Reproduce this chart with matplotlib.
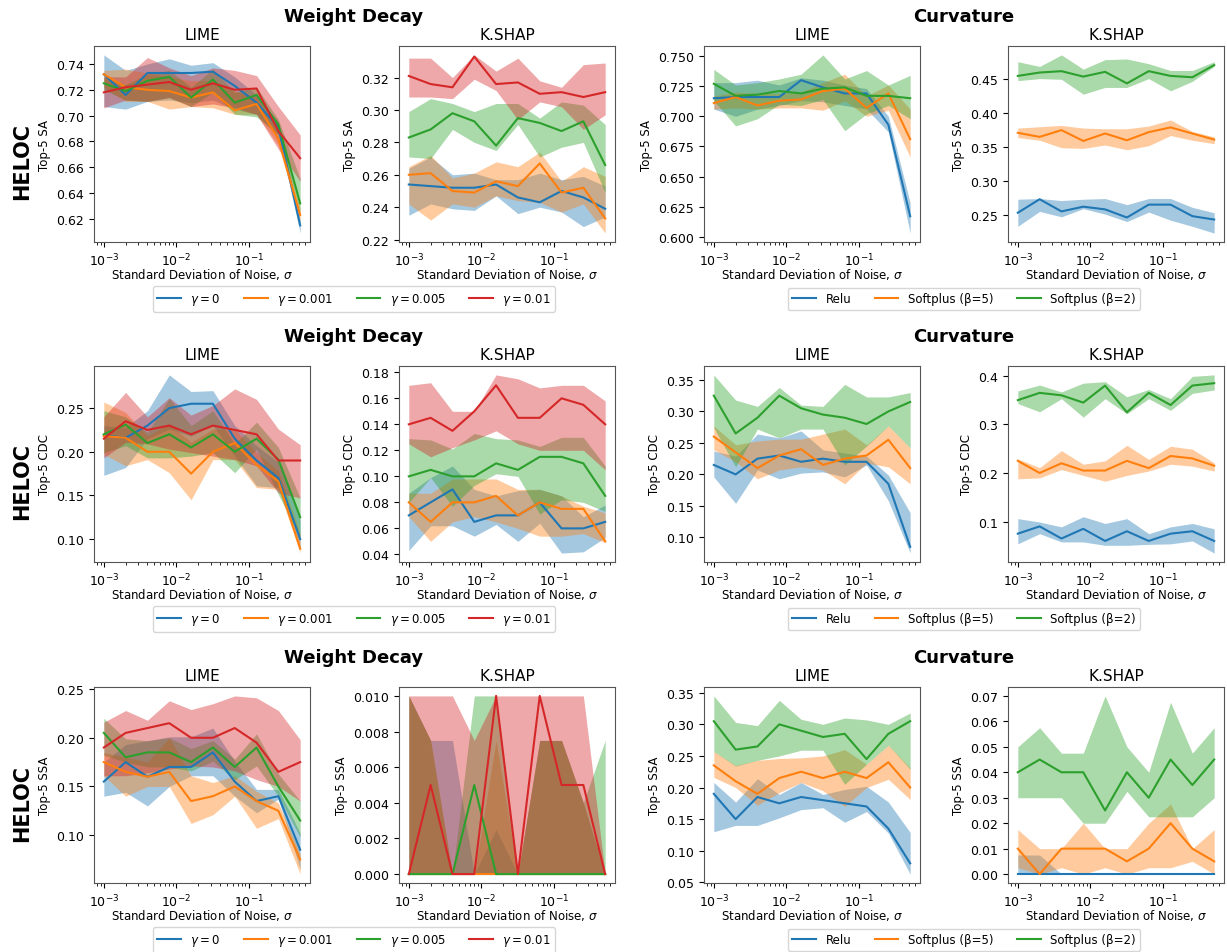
import matplotlib
matplotlib.use("Agg")
import matplotlib.pyplot as plt
from matplotlib.ticker import MultipleLocator

# Noise levels on the x axis
sigma = [0.001, 0.002, 0.004, 0.008, 0.016, 0.032, 0.064, 0.128, 0.256, 0.512]

wd_labels = [r"$\gamma = 0$", r"$\gamma = 0.001$", r"$\gamma = 0.005$", r"$\gamma = 0.01$"]
cv_labels = ["Relu", "Softplus (β=5)", "Softplus (β=2)"]
row_metrics = ["Top-5 SA", "Top-5 CDC", "Top-5 SSA"]

# ---- Top-5 SA, weight decay, LIME ----
sa_wd_lime_mean = [
    [0.732, 0.716, 0.733, 0.733, 0.733, 0.734, 0.723, 0.710, 0.691, 0.615],
    [0.732, 0.722, 0.720, 0.719, 0.714, 0.718, 0.704, 0.709, 0.682, 0.623],
    [0.725, 0.719, 0.727, 0.730, 0.714, 0.728, 0.710, 0.716, 0.693, 0.632],
    [0.718, 0.722, 0.724, 0.726, 0.720, 0.725, 0.720, 0.721, 0.688, 0.667],
]
sa_wd_lime_lo = [
    [0.707, 0.705, 0.711, 0.712, 0.710, 0.712, 0.705, 0.701, 0.685, 0.609],
    [0.722, 0.711, 0.711, 0.705, 0.707, 0.706, 0.701, 0.701, 0.677, 0.618],
    [0.720, 0.712, 0.711, 0.714, 0.707, 0.718, 0.701, 0.699, 0.685, 0.625],
    [0.706, 0.712, 0.711, 0.714, 0.707, 0.709, 0.706, 0.701, 0.674, 0.649],
]
sa_wd_lime_hi = [
    [0.747, 0.735, 0.740, 0.744, 0.739, 0.741, 0.730, 0.716, 0.695, 0.619],
    [0.735, 0.736, 0.733, 0.730, 0.727, 0.727, 0.719, 0.714, 0.688, 0.628],
    [0.730, 0.724, 0.732, 0.735, 0.722, 0.736, 0.718, 0.722, 0.697, 0.651],
    [0.730, 0.730, 0.745, 0.737, 0.731, 0.737, 0.735, 0.731, 0.707, 0.685],
]

# ---- Top-5 SA, weight decay, KernelSHAP ----
sa_wd_kshap_mean = [
    [0.254, 0.253, 0.252, 0.252, 0.254, 0.246, 0.243, 0.250, 0.246, 0.239],
    [0.260, 0.261, 0.250, 0.249, 0.256, 0.253, 0.267, 0.249, 0.252, 0.233],
    [0.283, 0.288, 0.298, 0.293, 0.278, 0.295, 0.292, 0.287, 0.293, 0.266],
    [0.321, 0.316, 0.314, 0.333, 0.316, 0.317, 0.310, 0.311, 0.308, 0.311],
]
sa_wd_kshap_lo = [
    [0.235, 0.242, 0.239, 0.238, 0.247, 0.236, 0.240, 0.237, 0.228, 0.234],
    [0.242, 0.232, 0.242, 0.240, 0.247, 0.244, 0.243, 0.237, 0.242, 0.224],
    [0.271, 0.270, 0.288, 0.280, 0.275, 0.291, 0.271, 0.277, 0.280, 0.249],
    [0.308, 0.308, 0.307, 0.319, 0.312, 0.294, 0.305, 0.302, 0.288, 0.297],
]
sa_wd_kshap_hi = [
    [0.264, 0.271, 0.260, 0.261, 0.257, 0.257, 0.261, 0.257, 0.259, 0.253],
    [0.265, 0.272, 0.258, 0.261, 0.268, 0.265, 0.274, 0.256, 0.265, 0.259],
    [0.299, 0.307, 0.304, 0.299, 0.304, 0.304, 0.295, 0.305, 0.303, 0.291],
    [0.332, 0.332, 0.320, 0.334, 0.324, 0.332, 0.318, 0.314, 0.328, 0.329],
]

# ---- Top-5 SA, curvature, LIME ----
sa_cv_lime_mean = [
    [0.715, 0.716, 0.716, 0.716, 0.730, 0.724, 0.719, 0.719, 0.693, 0.617],
    [0.711, 0.716, 0.709, 0.713, 0.714, 0.721, 0.723, 0.707, 0.719, 0.681],
    [0.727, 0.717, 0.718, 0.721, 0.719, 0.723, 0.724, 0.717, 0.717, 0.715],
]
sa_cv_lime_lo = [
    [0.706, 0.700, 0.706, 0.709, 0.713, 0.712, 0.709, 0.706, 0.687, 0.603],
    [0.706, 0.707, 0.706, 0.707, 0.707, 0.705, 0.713, 0.700, 0.705, 0.666],
    [0.713, 0.692, 0.698, 0.710, 0.709, 0.714, 0.688, 0.702, 0.709, 0.698],
]
sa_cv_lime_hi = [
    [0.728, 0.728, 0.730, 0.726, 0.732, 0.730, 0.726, 0.723, 0.700, 0.628],
    [0.717, 0.720, 0.719, 0.719, 0.720, 0.728, 0.735, 0.717, 0.726, 0.706],
    [0.739, 0.726, 0.728, 0.731, 0.735, 0.751, 0.731, 0.738, 0.726, 0.734],
]

# ---- Top-5 SA, curvature, KernelSHAP ----
sa_cv_kshap_mean = [
    [0.253, 0.273, 0.255, 0.262, 0.258, 0.246, 0.265, 0.265, 0.248, 0.243],
    [0.371, 0.365, 0.375, 0.359, 0.370, 0.360, 0.372, 0.379, 0.370, 0.361],
    [0.455, 0.460, 0.462, 0.454, 0.461, 0.444, 0.462, 0.455, 0.453, 0.471],
]
sa_cv_kshap_lo = [
    [0.233, 0.255, 0.247, 0.259, 0.251, 0.240, 0.254, 0.242, 0.233, 0.223],
    [0.364, 0.360, 0.349, 0.348, 0.353, 0.346, 0.352, 0.367, 0.360, 0.355],
    [0.448, 0.451, 0.450, 0.428, 0.438, 0.438, 0.451, 0.433, 0.447, 0.469],
]
sa_cv_kshap_hi = [
    [0.273, 0.274, 0.271, 0.273, 0.274, 0.265, 0.274, 0.274, 0.261, 0.253],
    [0.378, 0.380, 0.382, 0.378, 0.377, 0.377, 0.381, 0.390, 0.373, 0.365],
    [0.476, 0.469, 0.486, 0.465, 0.479, 0.480, 0.473, 0.463, 0.463, 0.476],
]

# ---- Top-5 CDC, weight decay, LIME ----
cdc_wd_lime_mean = [
    [0.219, 0.216, 0.230, 0.250, 0.255, 0.255, 0.215, 0.190, 0.170, 0.100],
    [0.218, 0.216, 0.200, 0.200, 0.175, 0.200, 0.210, 0.185, 0.166, 0.089],
    [0.220, 0.231, 0.210, 0.220, 0.205, 0.220, 0.200, 0.215, 0.191, 0.125],
    [0.215, 0.235, 0.225, 0.230, 0.220, 0.230, 0.225, 0.220, 0.190, 0.190],
]
cdc_wd_lime_lo = [
    [0.173, 0.182, 0.215, 0.226, 0.218, 0.230, 0.195, 0.161, 0.159, 0.089],
    [0.197, 0.184, 0.191, 0.176, 0.145, 0.191, 0.191, 0.159, 0.157, 0.084],
    [0.199, 0.207, 0.193, 0.193, 0.195, 0.199, 0.176, 0.203, 0.151, 0.103],
    [0.193, 0.211, 0.209, 0.203, 0.199, 0.195, 0.191, 0.184, 0.153, 0.147],
]
cdc_wd_lime_hi = [
    [0.230, 0.228, 0.247, 0.288, 0.269, 0.270, 0.230, 0.207, 0.188, 0.122],
    [0.257, 0.245, 0.218, 0.232, 0.211, 0.226, 0.226, 0.199, 0.178, 0.107],
    [0.247, 0.240, 0.222, 0.261, 0.230, 0.247, 0.209, 0.234, 0.205, 0.147],
    [0.240, 0.268, 0.240, 0.262, 0.242, 0.253, 0.272, 0.260, 0.226, 0.208],
]

# ---- Top-5 CDC, weight decay, KernelSHAP ----
cdc_wd_kshap_mean = [
    [0.070, 0.080, 0.090, 0.065, 0.070, 0.070, 0.080, 0.060, 0.060, 0.065],
    [0.080, 0.065, 0.080, 0.080, 0.085, 0.070, 0.080, 0.075, 0.075, 0.050],
    [0.100, 0.105, 0.100, 0.100, 0.110, 0.105, 0.115, 0.115, 0.110, 0.085],
    [0.140, 0.145, 0.135, 0.150, 0.170, 0.145, 0.145, 0.160, 0.155, 0.140],
]
cdc_wd_kshap_lo = [
    [0.043, 0.062, 0.062, 0.054, 0.063, 0.050, 0.064, 0.041, 0.042, 0.053],
    [0.069, 0.050, 0.065, 0.069, 0.065, 0.060, 0.054, 0.054, 0.056, 0.049],
    [0.080, 0.099, 0.077, 0.093, 0.102, 0.100, 0.071, 0.082, 0.080, 0.073],
    [0.125, 0.115, 0.122, 0.128, 0.135, 0.125, 0.120, 0.120, 0.120, 0.105],
]
cdc_wd_kshap_hi = [
    [0.087, 0.099, 0.108, 0.090, 0.085, 0.089, 0.090, 0.085, 0.069, 0.078],
    [0.087, 0.087, 0.098, 0.098, 0.098, 0.090, 0.090, 0.085, 0.077, 0.072],
    [0.129, 0.128, 0.121, 0.133, 0.129, 0.128, 0.123, 0.130, 0.130, 0.108],
    [0.170, 0.172, 0.150, 0.150, 0.178, 0.175, 0.168, 0.170, 0.170, 0.158],
]

# ---- Top-5 CDC, curvature, LIME ----
cdc_cv_lime_mean = [
    [0.215, 0.200, 0.225, 0.230, 0.220, 0.225, 0.220, 0.220, 0.185, 0.085],
    [0.260, 0.235, 0.210, 0.230, 0.240, 0.215, 0.225, 0.230, 0.255, 0.210],
    [0.325, 0.265, 0.290, 0.325, 0.305, 0.295, 0.290, 0.280, 0.300, 0.315],
]
cdc_cv_lime_lo = [
    [0.196, 0.154, 0.207, 0.193, 0.202, 0.204, 0.196, 0.215, 0.158, 0.075],
    [0.239, 0.220, 0.193, 0.207, 0.212, 0.207, 0.185, 0.218, 0.212, 0.185],
    [0.274, 0.212, 0.272, 0.258, 0.272, 0.272, 0.215, 0.245, 0.277, 0.242],
]
cdc_cv_lime_hi = [
    [0.237, 0.229, 0.264, 0.258, 0.269, 0.239, 0.234, 0.229, 0.199, 0.139],
    [0.277, 0.247, 0.253, 0.256, 0.256, 0.264, 0.272, 0.247, 0.277, 0.242],
    [0.358, 0.318, 0.308, 0.338, 0.310, 0.308, 0.343, 0.323, 0.323, 0.330],
]

# ---- Top-5 CDC, curvature, KernelSHAP ----
cdc_cv_kshap_mean = [
    [0.075, 0.090, 0.065, 0.085, 0.060, 0.080, 0.060, 0.075, 0.080, 0.060],
    [0.225, 0.200, 0.220, 0.205, 0.205, 0.225, 0.210, 0.235, 0.230, 0.215],
    [0.350, 0.365, 0.360, 0.345, 0.380, 0.325, 0.365, 0.340, 0.380, 0.385],
]
cdc_cv_kshap_lo = [
    [0.054, 0.075, 0.058, 0.058, 0.051, 0.051, 0.053, 0.054, 0.060, 0.035],
    [0.188, 0.190, 0.207, 0.195, 0.183, 0.195, 0.204, 0.218, 0.214, 0.204],
    [0.343, 0.326, 0.353, 0.315, 0.353, 0.322, 0.353, 0.329, 0.364, 0.371],
]
cdc_cv_kshap_hi = [
    [0.106, 0.099, 0.089, 0.110, 0.096, 0.106, 0.075, 0.089, 0.096, 0.085],
    [0.229, 0.211, 0.246, 0.218, 0.225, 0.257, 0.228, 0.255, 0.249, 0.221],
    [0.369, 0.381, 0.367, 0.385, 0.388, 0.357, 0.372, 0.353, 0.399, 0.402],
]

# ---- Top-5 SSA, weight decay, LIME ----
ssa_wd_lime_mean = [
    [0.155, 0.175, 0.160, 0.170, 0.170, 0.185, 0.155, 0.135, 0.140, 0.085],
    [0.175, 0.165, 0.160, 0.165, 0.135, 0.140, 0.150, 0.135, 0.125, 0.075],
    [0.205, 0.180, 0.185, 0.185, 0.175, 0.190, 0.170, 0.190, 0.150, 0.115],
    [0.190, 0.205, 0.210, 0.215, 0.200, 0.200, 0.210, 0.195, 0.165, 0.175],
]
ssa_wd_lime_lo = [
    [0.140, 0.144, 0.130, 0.150, 0.161, 0.161, 0.140, 0.123, 0.137, 0.065],
    [0.161, 0.140, 0.150, 0.150, 0.112, 0.121, 0.140, 0.107, 0.117, 0.060],
    [0.182, 0.175, 0.170, 0.170, 0.166, 0.176, 0.157, 0.171, 0.140, 0.098],
    [0.161, 0.161, 0.164, 0.168, 0.171, 0.170, 0.166, 0.157, 0.150, 0.135],
]
ssa_wd_lime_hi = [
    [0.175, 0.193, 0.197, 0.201, 0.201, 0.210, 0.176, 0.147, 0.147, 0.102],
    [0.185, 0.180, 0.175, 0.200, 0.161, 0.154, 0.161, 0.145, 0.133, 0.081],
    [0.220, 0.199, 0.197, 0.200, 0.189, 0.197, 0.178, 0.204, 0.163, 0.135],
    [0.216, 0.228, 0.218, 0.238, 0.229, 0.235, 0.243, 0.241, 0.228, 0.198],
]

# ---- Top-5 SSA, weight decay, KernelSHAP ----
ssa_wd_kshap_mean = [
    [0.0, 0.0, 0.0, 0.0, 0.0, 0.0, 0.0, 0.0, 0.0, 0.0],
    [0.0, 0.0, 0.0, 0.0, 0.0, 0.0, 0.0, 0.0, 0.0, 0.0],
    [0.0, 0.0, 0.0, 0.005, 0.0, 0.0, 0.0, 0.0, 0.0, 0.0],
    [0.0, 0.005, 0.0, 0.0, 0.01, 0.0, 0.01, 0.005, 0.005, 0.0],
]
ssa_wd_kshap_lo = [
    [0.0, 0.0, 0.0, 0.0, 0.0, 0.0, 0.0, 0.0, 0.0, 0.0],
    [0.0, 0.0, 0.0, 0.0, 0.0, 0.0, 0.0, 0.0, 0.0, 0.0],
    [0.0, 0.0, 0.0, 0.0, 0.0, 0.0, 0.0, 0.0, 0.0, 0.0],
    [0.0, 0.0, 0.0, 0.0, 0.0, 0.0, 0.0, 0.0, 0.0, 0.0],
]
ssa_wd_kshap_hi = [
    [0.01, 0.0075, 0.0075, 0.0, 0.0025, 0.0, 0.0075, 0.0075, 0.004, 0.0],
    [0.01, 0.0075, 0.0, 0.0, 0.0075, 0.0, 0.0075, 0.0075, 0.004, 0.0],
    [0.01, 0.0075, 0.0, 0.01, 0.01, 0.0, 0.0075, 0.0075, 0.004, 0.0075],
    [0.01, 0.01, 0.01, 0.0075, 0.01, 0.01, 0.01, 0.01, 0.01, 0.0],
]

# ---- Top-5 SSA, curvature, LIME ----
ssa_cv_lime_mean = [
    [0.190, 0.150, 0.185, 0.175, 0.185, 0.180, 0.175, 0.170, 0.135, 0.080],
    [0.235, 0.210, 0.190, 0.215, 0.225, 0.215, 0.225, 0.215, 0.240, 0.200],
    [0.305, 0.260, 0.265, 0.300, 0.290, 0.280, 0.285, 0.245, 0.285, 0.305],
]
ssa_cv_lime_lo = [
    [0.130, 0.140, 0.140, 0.152, 0.165, 0.168, 0.145, 0.162, 0.128, 0.063],
    [0.216, 0.200, 0.172, 0.192, 0.208, 0.195, 0.170, 0.200, 0.213, 0.181],
    [0.257, 0.234, 0.243, 0.250, 0.259, 0.259, 0.205, 0.237, 0.267, 0.229],
]
ssa_cv_lime_hi = [
    [0.208, 0.177, 0.214, 0.189, 0.208, 0.189, 0.197, 0.202, 0.177, 0.129],
    [0.257, 0.235, 0.243, 0.246, 0.247, 0.250, 0.260, 0.237, 0.267, 0.231],
    [0.345, 0.303, 0.298, 0.338, 0.308, 0.300, 0.310, 0.307, 0.300, 0.318],
]

# ---- Top-5 SSA, curvature, KernelSHAP ----
ssa_cv_kshap_mean = [
    [0.0, 0.0, 0.0, 0.0, 0.0, 0.0, 0.0, 0.0, 0.0, 0.0],
    [0.01, 0.0, 0.01, 0.01, 0.01, 0.005, 0.01, 0.02, 0.01, 0.005],
    [0.04, 0.045, 0.04, 0.04, 0.025, 0.04, 0.03, 0.045, 0.035, 0.045],
]
ssa_cv_kshap_lo = [
    [0.0, 0.0, 0.0, 0.0, 0.0, 0.0, 0.0, 0.0, 0.0, 0.0],
    [0.0025, 0.0, 0.0025, 0.0, 0.0025, 0.0, 0.0025, 0.0025, 0.005, 0.0],
    [0.03, 0.03, 0.03, 0.02, 0.02, 0.0325, 0.0225, 0.0225, 0.0225, 0.03],
]
ssa_cv_kshap_hi = [
    [0.0075, 0.0075, 0.0, 0.0, 0.0, 0.0, 0.0, 0.0, 0.0, 0.0],
    [0.0175, 0.01, 0.01, 0.02, 0.01, 0.01, 0.02, 0.0275, 0.01, 0.0175],
    [0.05, 0.0575, 0.0475, 0.0475, 0.07, 0.05, 0.04, 0.0675, 0.0475, 0.0575],
]

# y tick spacing per panel (rows: SA, CDC, SSA)
ytick_step = [
    [0.02, 0.02, 0.025, 0.05],
    [0.05, 0.02, 0.05, 0.1],
    [0.05, 0.002, 0.05, 0.01],
]

palette = ["#1f77b4", "#ff7f0e", "#2ca02c", "#d62728"]

W, H = 1227, 953
fig = plt.figure(figsize=(W / 100, H / 100), dpi=100)

col_left = [94, 399, 704, 1008]
row_top = [47, 367, 688]
ax_w, ax_h = 216, 196

panels = [
    [(sa_wd_lime_mean, sa_wd_lime_lo, sa_wd_lime_hi),
     (sa_wd_kshap_mean, sa_wd_kshap_lo, sa_wd_kshap_hi),
     (sa_cv_lime_mean, sa_cv_lime_lo, sa_cv_lime_hi),
     (sa_cv_kshap_mean, sa_cv_kshap_lo, sa_cv_kshap_hi)],
    [(cdc_wd_lime_mean, cdc_wd_lime_lo, cdc_wd_lime_hi),
     (cdc_wd_kshap_mean, cdc_wd_kshap_lo, cdc_wd_kshap_hi),
     (cdc_cv_lime_mean, cdc_cv_lime_lo, cdc_cv_lime_hi),
     (cdc_cv_kshap_mean, cdc_cv_kshap_lo, cdc_cv_kshap_hi)],
    [(ssa_wd_lime_mean, ssa_wd_lime_lo, ssa_wd_lime_hi),
     (ssa_wd_kshap_mean, ssa_wd_kshap_lo, ssa_wd_kshap_hi),
     (ssa_cv_lime_mean, ssa_cv_lime_lo, ssa_cv_lime_hi),
     (ssa_cv_kshap_mean, ssa_cv_kshap_lo, ssa_cv_kshap_hi)],
]
explainers = ["LIME", "K.SHAP", "LIME", "K.SHAP"]

for r in range(3):
    top = row_top[r]
    for c in range(4):
        ax = fig.add_axes([col_left[c] / W, 1 - (top + ax_h) / H, ax_w / W, ax_h / H])
        means, los, his = panels[r][c]
        labels = wd_labels if c < 2 else cv_labels
        for k, (m, lo, hi) in enumerate(zip(means, los, his)):
            ax.plot(sigma, m, color=palette[k], lw=1.5, label=labels[k])
            ax.fill_between(sigma, lo, hi, color=palette[k], alpha=0.4, lw=0)
        ax.set_xscale("log")
        ax.yaxis.set_major_locator(MultipleLocator(ytick_step[r][c]))
        ax.set_title(explainers[c], fontsize=11, pad=5)
        ax.set_xlabel(r"Standard Deviation of Noise, $\sigma$", fontsize=8.5, labelpad=-1.5)
        ax.set_ylabel(row_metrics[r], fontsize=8.5)
        ax.tick_params(labelsize=9)
        for s in ax.spines.values():
            s.set_color("#555555")
        if c == 0:
            handles_wd, _ = ax.get_legend_handles_labels()
        if c == 2:
            handles_cv, _ = ax.get_legend_handles_labels()

    # group titles above each pair of panels
    fig.text(354 / W, 1 - (top - 30) / H, "Weight Decay", ha="center", va="center",
             fontsize=13, fontweight="bold")
    fig.text(964 / W, 1 - (top - 30) / H, "Curvature", ha="center", va="center",
             fontsize=13, fontweight="bold")
    fig.text(22 / W, 1 - (top + 115) / H, "HELOC", rotation=90, ha="center", va="center",
             fontsize=15, fontweight="bold")

    leg_y = 1 - (top + 253) / H
    fig.legend(handles_wd, wd_labels, loc="center", bbox_to_anchor=(354 / W, leg_y),
               ncol=4, fontsize=8.5, frameon=True, columnspacing=2.0)
    fig.legend(handles_cv, cv_labels, loc="center", bbox_to_anchor=(964 / W, leg_y),
               ncol=3, fontsize=8.5, frameon=True, columnspacing=2.0)

fig.savefig("out.png", dpi=100)
